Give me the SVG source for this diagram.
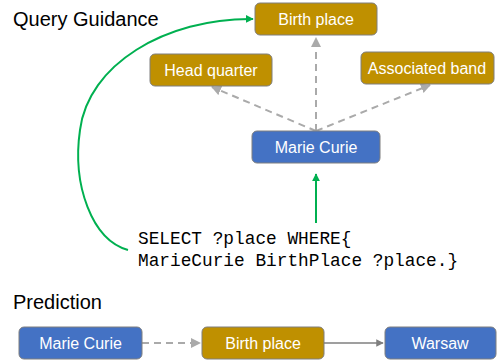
<svg xmlns="http://www.w3.org/2000/svg" width="497" height="360" viewBox="0 0 497 360">
<defs>
<style>
.gold{fill:#BF9000;stroke:#7F7F7F;stroke-width:1}
.blue{fill:#4472C4;stroke:#7F7F7F;stroke-width:1}
.lbl{font-family:"Liberation Sans",Arial,sans-serif;font-size:16px;fill:#FFFFFF;text-anchor:middle}
.title{font-family:"Liberation Sans",Arial,sans-serif;font-size:20px;fill:#000000}
.code{font-family:"Liberation Mono","Courier New",monospace;font-size:17.8px;fill:#000000}
.dash{fill:none;stroke:#AAAAAA;stroke-width:2;stroke-dasharray:7,5}
.green{fill:none;stroke:#00B050;stroke-width:2}
.solid{fill:none;stroke:#7F7F7F;stroke-width:1.5}
</style>
<marker id="ag" viewBox="0 0 10 10" refX="9" refY="5" markerWidth="5" markerHeight="5" orient="auto"><path d="M0,0 L10,5 L0,10 z" fill="#AAAAAA"/></marker>
<marker id="agr" viewBox="0 0 10 10" refX="9" refY="5" markerWidth="4" markerHeight="4" orient="auto"><path d="M0,0 L10,5 L0,10 z" fill="#00B050"/></marker>
<marker id="as" viewBox="0 0 10 10" refX="9" refY="5" markerWidth="5" markerHeight="5" orient="auto"><path d="M0,0 L10,5 L0,10 z" fill="#7F7F7F"/></marker>
</defs>
<text class="title" x="13" y="26">Query Guidance</text>
<text class="title" x="13" y="309">Prediction</text>
<g id="connectors">
<path class="dash" d="M316,131 L316,38" marker-end="url(#ag)"/>
<path class="dash" d="M316,131 L212,87" marker-end="url(#ag)"/>
<path class="dash" d="M316,131 L430,85" marker-end="url(#ag)"/>
<path class="green" d="M316,223 L316,174" marker-end="url(#agr)"/>
<path class="green" d="M128,250 C92,240 72,185 80,130 C88,65 165,18 253,19" marker-end="url(#agr)"/>
<path class="dash" d="M142,343 L200,343" marker-end="url(#ag)"/>
<path class="solid" d="M324,343 L383,343" marker-end="url(#as)"/>
</g>
<g id="birthplace_top"><rect class="gold" x="255" y="3" width="122" height="32" rx="5"/><text class="lbl" x="316" y="25">Birth place</text></g>
<g id="headquarter"><rect class="gold" x="150" y="54" width="122" height="32" rx="5"/><text class="lbl" x="211" y="76">Head quarter</text></g>
<g id="associatedband"><rect class="gold" x="361" y="52" width="133" height="32" rx="5"/><text class="lbl" x="427" y="74">Associated band</text></g>
<g id="mariecurie_top"><rect class="blue" x="252" y="131" width="128" height="32" rx="5"/><text class="lbl" x="316" y="153">Marie Curie</text></g>
<g id="query"><text class="code" x="138" y="244">SELECT ?place WHERE{</text><text class="code" x="138" y="266">MarieCurie BirthPlace ?place.}</text></g>
<g id="mariecurie_bottom"><rect class="blue" x="19" y="327" width="123" height="32" rx="5"/><text class="lbl" x="80.5" y="349">Marie Curie</text></g>
<g id="birthplace_bottom"><rect class="gold" x="202" y="327" width="122" height="32" rx="5"/><text class="lbl" x="263" y="349">Birth place</text></g>
<g id="warsaw"><rect class="blue" x="385" y="327" width="111" height="32" rx="5"/><text class="lbl" x="440" y="349">Warsaw</text></g>
</svg>
